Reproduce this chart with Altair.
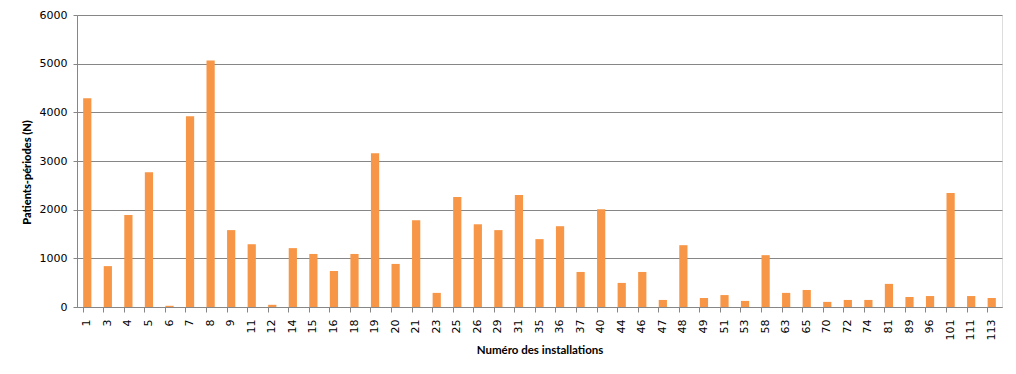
import altair as alt
import pandas as pd

installations = ["1", "3", "4", "5", "6", "7", "8", "9", "11", "12", "14", "15", "16", "18",
                 "19", "20", "21", "23", "25", "26", "29", "31", "35", "36", "37", "40", "44",
                 "46", "47", "48", "49", "51", "53", "58", "63", "65", "70", "72", "74", "81",
                 "89", "96", "101", "111", "113"]
patients_periodes = [4290, 840, 1890, 2770, 25, 3920, 5065, 1580, 1290, 45, 1210, 1090, 740,
                     1090, 3160, 885, 1785, 290, 2260, 1700, 1580, 2300, 1395, 1660, 720, 2010,
                     495, 720, 145, 1270, 185, 245, 125, 1065, 290, 350, 105, 145, 145, 475,
                     205, 225, 2340, 225, 185]

df = pd.DataFrame({"installation": installations, "valeur": patients_periodes})

grid = "#868686"

chart = alt.Chart(df).mark_bar(color="#F79646").encode(
    x=alt.X("installation:N", sort=installations,
            scale=alt.Scale(paddingInner=0.6, paddingOuter=0.3),
            axis=alt.Axis(title="Numéro des installations", labelAngle=270,
                          labelAlign="right", labelBaseline="middle",
                          labelFont="DejaVu Sans", labelFontSize=11, labelColor="#000000",
                          labelPadding=7, bandPosition=0, tickSize=5, tickColor=grid,
                          domainColor=grid, grid=False,
                          titleFont="Lato", titleFontSize=11.5, titleFontWeight="bold",
                          titleColor="#000000", titlePadding=5)),
    y=alt.Y("valeur:Q",
            scale=alt.Scale(domain=[0, 6000]),
            axis=alt.Axis(title="Patients-périodes (N)", values=[0, 1000, 2000, 3000, 4000, 5000, 6000],
                          format="d", labelFont="DejaVu Sans", labelFontSize=11,
                          labelColor="#000000", labelPadding=6, tickSize=4, tickColor=grid,
                          domainColor=grid, gridColor=grid, gridWidth=1,
                          titleFont="Lato", titleFontSize=11, titleFontWeight=900,
                          titleColor="#000000", titleY=157, titlePadding=7)),
).properties(
    width=925, height=292,
    autosize=alt.AutoSizeParams(type="none"),
    padding={"left": 69, "top": 7, "right": 6, "bottom": 59},
).configure_view(stroke=None).configure(background="#FFFFFF")

chart.save("out.html", embed_options={"renderer": "svg", "actions": False})
